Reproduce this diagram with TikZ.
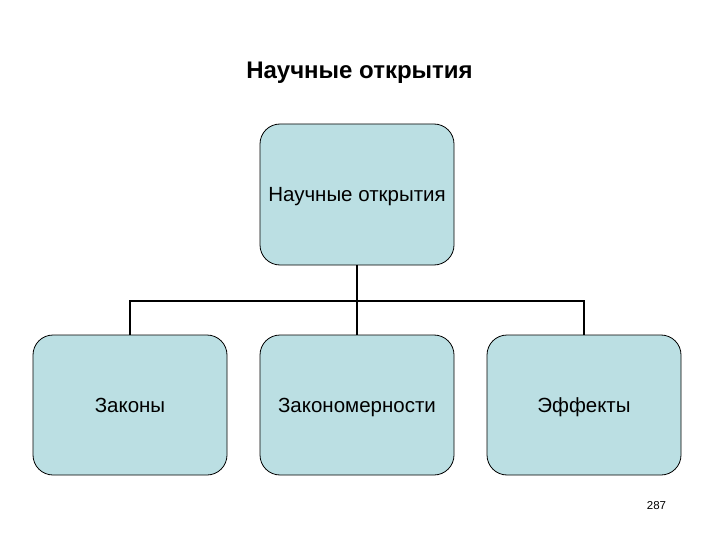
\documentclass[tikz,border=0pt]{standalone}
\usepackage{fontspec}
\setmainfont{Liberation Sans}
\definecolor{boxfill}{HTML}{BBDFE3}
\begin{document}
\begin{tikzpicture}[x=1pt,y=-1pt,
  box/.style={draw=black, line width=0.8pt, fill=boxfill, rounded corners=20pt,
    minimum width=194pt, minimum height=141pt, inner sep=0pt,
    text height=14.7pt, text depth=0pt, font=\fontsize{20.5}{24}\selectfont},
  conn/.style={draw=black, line width=1.8pt}]
\useasboundingbox (0,0) rectangle (720,540);
\node[font=\bfseries\fontsize{24}{28}\selectfont, text height=17.2pt, text depth=0pt, inner sep=0pt] (title) at (359.5,69.5) {Научные открытия};
\node[box] (top) at (357,194.5) {Научные открытия};
\node[box, minimum height=140pt] (b1) at (130,405) {Законы};
\node[box, minimum height=140pt] (b2) at (357,405) {Закономерности};
\node[box, minimum height=140pt] (b3) at (584,405) {Эффекты};
\coordinate (j) at (357,301);
\draw[conn] (top.south) -- (j);
\draw[conn] (b1.north) |- (j) -| (b3.north);
\draw[conn] (j) -- (b2.north);
\node[font=\fontsize{11.5}{14}\selectfont, text height=8.2pt, text depth=0pt, inner sep=0pt] (pg) at (656.5,505) {287};
\end{tikzpicture}
\end{document}
